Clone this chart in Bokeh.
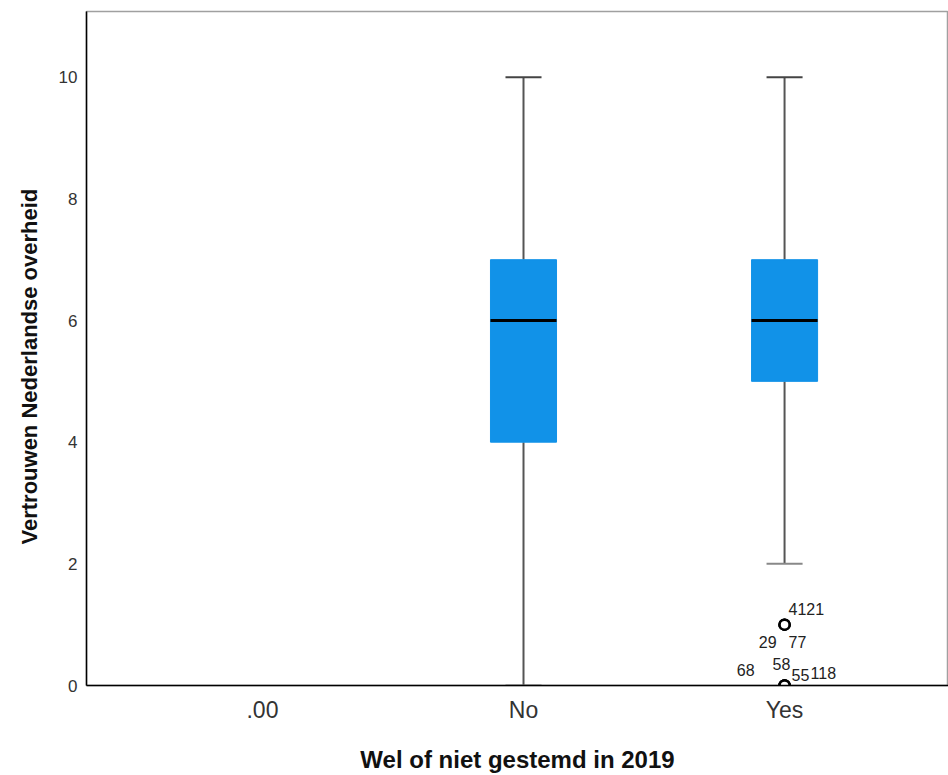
from bokeh.plotting import figure
from bokeh.models import Range1d, FixedTicker, ColumnDataSource, Title
from bokeh.core.properties import value
from bokeh.embed import file_html
from bokeh.resources import INLINE

# ---- data ----
categories = [".00", "No", "Yes"]
box_cats = ["No", "Yes"]
q1 = [4, 5]
median = [6, 6]
q3 = [7, 7]
whisk_low = [0, 2]
whisk_high = [10, 10]
outlier_cats = ["Yes", "Yes", "Yes", "Yes", "Yes", "Yes", "Yes"]
outlier_vals = [1, 1, 1, 0, 0, 0, 0]
outlier_ids = ["4121", "29", "77", "68", "58", "55", "118"]
y_ticks = [0, 2, 4, 6, 8, 10]
y_title = "Vertrouwen Nederlandse overheid"
x_title = "Wel of niet gestemd in 2019"

# label placement (pixel offsets, styles only)
lab_dx = [4, -8, 4, -30, -12, 7, 26]
lab_dy = [-16, 17, 17, -16, -22, -11, -13]
lab_align = ["left", "right", "left", "right", "left", "left", "left"]

pos = {c: i for i, c in enumerate(categories)}
bx = [pos[c] for c in box_cats]
ox = [pos[c] for c in outlier_cats]

p = figure(width=948, height=775, output_backend="svg", toolbar_location=None,
           x_range=Range1d(-0.674, 2.628), y_range=Range1d(0, 11.08),
           min_border_left=86, min_border_right=0, min_border_top=11, min_border_bottom=89)
p.background_fill_color = "white"
p.outline_line_color = "#a0a0a0"
p.outline_line_width = 1.5
p.grid.visible = False

box_w = 0.253
cap_w = 0.138

# whiskers
p.segment(x0=bx, y0=whisk_low, x1=bx, y1=q1, line_color="#555555", line_width=2)
p.segment(x0=bx, y0=q3, x1=bx, y1=whisk_high, line_color="#555555", line_width=2)
# caps
p.segment(x0=[x - cap_w / 2 for x in bx], y0=whisk_high, x1=[x + cap_w / 2 for x in bx], y1=whisk_high,
          line_color="#444444", line_width=2)
p.segment(x0=[x - cap_w / 2 for x in bx], y0=whisk_low, x1=[x + cap_w / 2 for x in bx], y1=whisk_low,
          line_color="#888888", line_width=2)
# boxes
p.vbar(x=bx, width=box_w, bottom=q1, top=q3, fill_color="#1192E8", line_color="#1192E8", line_width=1)
# medians
p.segment(x0=[x - box_w / 2 for x in bx], y0=median, x1=[x + box_w / 2 for x in bx], y1=median,
          line_color="black", line_width=3)

# outliers
p.scatter(x=ox, y=outlier_vals, size=10, marker="circle", fill_color="white",
          line_color="black", line_width=2.5)
src = ColumnDataSource(dict(x=ox, y=outlier_vals, t=outlier_ids, dx=lab_dx, dy=lab_dy, al=lab_align))
p.text(x="x", y="y", text="t", x_offset="dx", y_offset="dy", text_align="al", source=src,
       text_baseline="middle", text_font=value("Liberation Sans"), text_font_size="16px",
       text_color="#222222")

# axes
p.yaxis.ticker = FixedTicker(ticks=y_ticks)
p.yaxis.major_label_text_font = "Liberation Sans"
p.yaxis.major_label_text_font_size = "17px"
p.yaxis.major_label_text_color = "#333333"
p.yaxis.major_label_standoff = 9
p.yaxis.major_tick_out = 0
p.yaxis.major_tick_in = 0
p.yaxis.minor_tick_line_color = None
p.yaxis.axis_line_color = "black"
p.yaxis.axis_line_width = 1.5

ytitle = Title(text=y_title, align="left", offset=141, standoff=27,
               text_font="Liberation Sans", text_font_style="bold", text_font_size="22px",
               text_color="#111111")
p.add_layout(ytitle, "left")

p.xaxis.ticker = FixedTicker(ticks=list(range(len(categories))))
p.xaxis.major_label_overrides = {i: c for i, c in enumerate(categories)}
p.xaxis.axis_label = x_title
p.xaxis.axis_label_text_font = "Liberation Sans"
p.xaxis.axis_label_text_font_style = "bold"
p.xaxis.axis_label_text_font_size = "24px"
p.xaxis.axis_label_text_color = "#111111"
p.xaxis.axis_label_standoff = 20
p.xaxis.major_label_text_font = "Liberation Sans"
p.xaxis.major_label_text_font_size = "23px"
p.xaxis.major_label_text_color = "#333333"
p.xaxis.major_label_standoff = 11
p.xaxis.major_tick_out = 0
p.xaxis.major_tick_in = 0
p.xaxis.minor_tick_line_color = None
p.xaxis.axis_line_color = "black"
p.xaxis.axis_line_width = 1.5

open("out.html", "w").write(file_html(p, INLINE))
